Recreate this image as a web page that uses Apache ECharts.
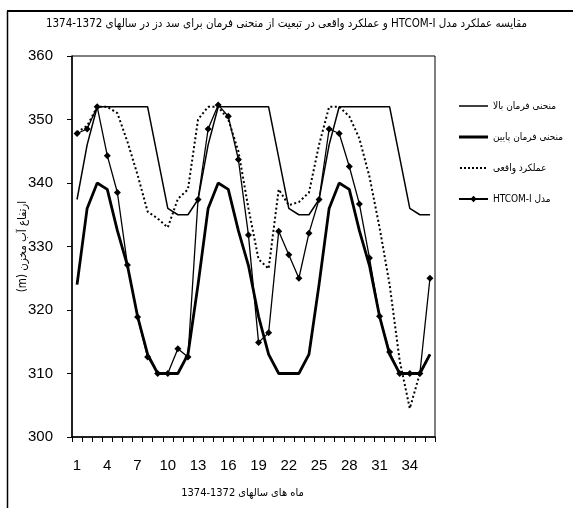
<!DOCTYPE html>
<html>
<head>
<meta charset="utf-8">
<script src="https://cdn.jsdelivr.net/npm/echarts@6/dist/echarts.min.js"></script>
<style>
html,body{margin:0;padding:0;background:#fff;}
#chart{width:573px;height:508px;direction:rtl;}
</style>
</head>
<body>
<div id="chart"></div>
<script>
// ---- data ----
var months = ['1','2','3','4','5','6','7','8','9','10','11','12','13','14','15','16','17','18','19','20','21','22','23','24','25','26','27','28','29','30','31','32','33','34','35','36'];
var yTicks = [300, 310, 320, 330, 340, 350, 360];
var seriesNames = ['منحنی فرمان بالا', 'منحنی فرمان پایین', 'عملکرد واقعی', 'مدل HTCOM-I'];
var upperRule = [337.4, 346, 352, 352, 352, 352, 352, 352, 344, 336, 335, 335,
                 337.4, 346, 352, 352, 352, 352, 352, 352, 344, 336, 335, 335,
                 337.4, 346, 352, 352, 352, 352, 352, 352, 344, 336, 335, 335];
var lowerRule = [324, 336, 340, 339, 332.5, 327, 319, 313, 310, 310, 310, 313,
                 324, 336, 340, 339, 332.5, 327, 319, 313, 310, 310, 310, 313,
                 324, 336, 340, 339, 332.5, 327, 319, 313, 310, 310, 310, 313];
var actualOp = [348, 349, 352, 352, 351, 346.5, 341.3, 335.5, 334.4, 333, 337.5, 339,
                350, 352, 352, 350, 345, 336, 328, 326.5, 339, 336.5, 337, 338.5,
                346, 352, 352, 350.5, 347, 341, 333, 324, 312, 304.5, 310, 313];
var htcom = [347.8, 348.5, 352, 344.3, 338.5, 327.1, 318.9, 312.6, 310, 310, 313.9, 312.6,
             337.4, 348.5, 352.3, 350.5, 343.7, 331.8, 314.9, 316.4, 332.4, 328.7, 325, 332.1,
             337.4, 348.5, 347.8, 342.6, 336.7, 328.2, 319, 313.4, 310, 310, 310, 325];
var titleText = 'مقایسه عملکرد مدل HTCOM-I و عملکرد واقعی در تبعیت از منحنی فرمان برای سد دز در سالهای 1372-1374';
var xName = 'ماه های سالهای 1372-1374';
var yName = 'ارتفاع آب مخزن (m)';

var faFont = 'DejaVu Sans Condensed, DejaVu Sans, sans-serif';
var numFont = 'Liberation Sans, Arial, sans-serif';

// legend icon shapes (bounding box 29x8)
var iconThin = 'path://M0,0h0.01v0.01z M0,3.25h29v1.5h-29z M29,8h-0.01v-0.01z';
var iconThick = 'path://M0,0h0.01v0.01z M0,2.6h29v2.8h-29z M29,8h-0.01v-0.01z';
var dotParts = [];
for (var i = 0; i < 7; i++) { dotParts.push('M' + (1 + i * 4) + ',3h2v2h-2z'); }
var iconDot = 'path://M0,0h0.01v0.01z ' + dotParts.join(' ') + ' M29,8h-0.01v-0.01z';

var chart = echarts.init(document.getElementById('chart'), null, {renderer: 'canvas'});
chart.setOption({
  backgroundColor: '#fff',
  animation: false,
  title: {
    text: titleText,
    left: 'center',
    top: 13,
    textStyle: {fontSize: 11.5, fontWeight: 'normal', fontFamily: faFont, color: '#000'}
  },
  graphic: [
    {type: 'line', shape: {x1: 7, y1: 11, x2: 573, y2: 11}, style: {stroke: '#000', lineWidth: 2}},
    {type: 'line', shape: {x1: 7.5, y1: 11, x2: 7.5, y2: 508}, style: {stroke: '#000', lineWidth: 1.5}}
  ],
  legend: {
    orient: 'vertical',
    left: 453,
    top: 96,
    itemWidth: 29,
    itemHeight: 8,
    itemGap: 21,
    itemStyle: {borderWidth: 0},
    data: [
      {name: seriesNames[0], icon: iconThin, itemStyle: {color: '#000', borderWidth: 0}},
      {name: seriesNames[1], icon: iconThick, itemStyle: {color: '#000', borderWidth: 0}},
      {name: seriesNames[2], icon: iconDot, itemStyle: {color: '#000', borderWidth: 0}},
      {name: seriesNames[3]}
    ],
    textStyle: {fontSize: 10, fontFamily: faFont, color: '#000'}
  },
  grid: {left: 72, top: 56, right: 138, bottom: 71, show: true, borderColor: '#000', borderWidth: 1,
         containLabel: false, outerBoundsMode: 'none'},
  xAxis: {
    type: 'category',
    data: months,
    boundaryGap: true,
    name: xName,
    nameLocation: 'middle',
    nameGap: 51,
    nameMoveOverlap: false,
    nameTextStyle: {fontSize: 11, fontFamily: faFont, color: '#000', padding: [0, 22, 0, 0]},
    axisLine: {lineStyle: {color: '#000', width: 1.5}},
    axisTick: {show: true, interval: 0, length: 5, lineStyle: {color: '#000'}},
    axisLabel: {interval: 2, fontSize: 15, fontFamily: numFont, color: '#000', margin: 21},
    splitLine: {show: false}
  },
  yAxis: {
    type: 'value',
    min: yTicks[0],
    max: yTicks[yTicks.length - 1],
    interval: 10,
    name: yName,
    nameLocation: 'middle',
    nameRotate: 90,
    nameGap: 43,
    nameMoveOverlap: false,
    nameTextStyle: {fontSize: 11.5, fontFamily: faFont, color: '#000'},
    axisLine: {show: true, lineStyle: {color: '#000', width: 1.5}},
    axisTick: {show: true, length: 5, lineStyle: {color: '#000'}},
    axisLabel: {fontSize: 15, fontFamily: numFont, color: '#000', margin: 19},
    splitLine: {show: false}
  },
  series: [
    {name: seriesNames[0], type: 'line', data: upperRule, symbol: 'none', z: 2,
     lineStyle: {color: '#000', width: 1.5}, itemStyle: {color: '#000'}},
    {name: seriesNames[1], type: 'line', data: lowerRule, symbol: 'none', z: 3,
     lineStyle: {color: '#000', width: 2.8}, itemStyle: {color: '#000'}},
    {name: seriesNames[2], type: 'line', data: actualOp, symbol: 'none', z: 2,
     lineStyle: {color: '#000', width: 2, type: [2, 2.5]}, itemStyle: {color: '#000'}},
    {name: seriesNames[3], type: 'line', data: htcom, symbol: 'diamond', symbolSize: 7, z: 4,
     showAllSymbol: true,
     lineStyle: {color: '#000', width: 1.3}, itemStyle: {color: '#000'}}
  ]
});
</script>
</body>
</html>
